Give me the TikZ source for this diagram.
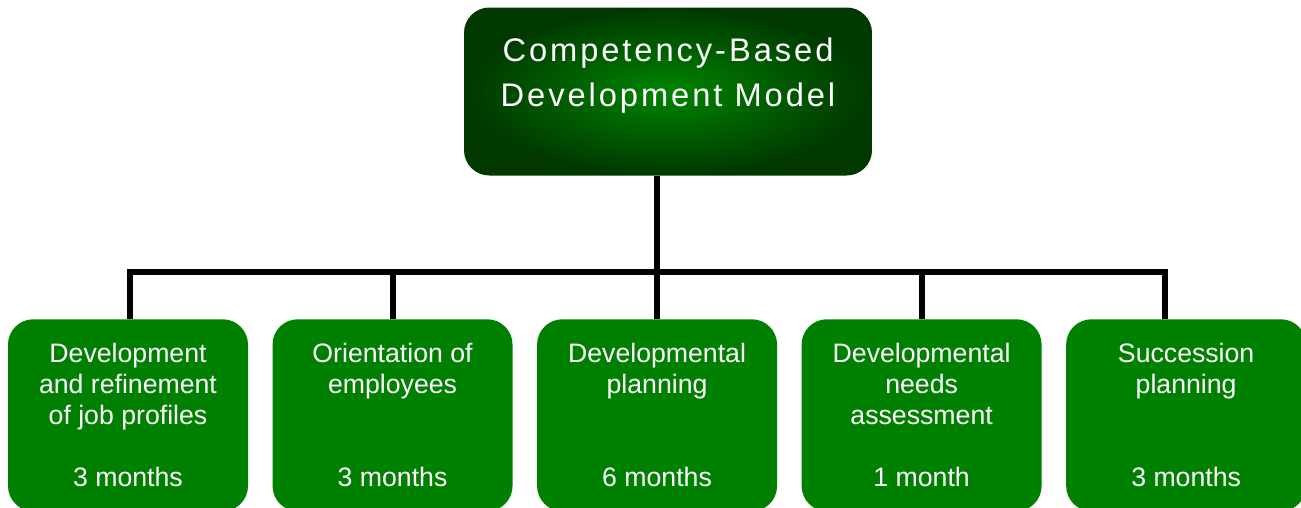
\documentclass[tikz,border=0pt]{standalone}
\usepackage{fontspec}
\setmainfont{Liberation Sans}
\newfontfamily\titlefont[LetterSpace=9]{Liberation Sans}
\usetikzlibrary{positioning, calc}
\tikzstyle{model} = [rounded corners=19pt, minimum width=306pt, minimum height=126pt, inner color=green!52!black, outer color=green!22!black, text=white, align=center, font=\titlefont\fontsize{24.5}{33.75}\selectfont]
\tikzstyle{stage} = [rounded corners=19pt, minimum width=180pt, minimum height=144pt, inner sep=0pt, fill=green!50!black, text=white, align=center, font=\fontsize{20}{23.25}\selectfont]
\tikzstyle{bus} = [line width=4.5pt]

\begin{document}
\begin{tikzpicture}[x=0.75pt, y=-0.75pt]
          \useasboundingbox (0,0) rectangle (1301,507);

          \node[model] (model) at (668,91.5) {Competency-Based\\Development Model\\[-4pt]~};

          \node[stage, anchor=north] (stage-1) at (128,319) {Development\\and refinement\\of job profiles\\~\\3 months};
          \node[stage, right=18pt of stage-1] (stage-2) {Orientation of\\employees\\~\\~\\3 months};
          \node[stage, right=18pt of stage-2] (stage-3) {Developmental\\planning\\~\\~\\6 months};
          \node[stage, right=18pt of stage-3] (stage-4) {Developmental\\needs\\assessment\\~\\1 month};
          \node[stage, right=18pt of stage-4] (stage-5) {Succession\\planning\\~\\~\\3 months};

          \coordinate (hub) at ($(model.south -| stage-3.north)!0.67!(stage-3.north)$);

          \draw[bus] (model.south -| stage-3.north) -- (stage-3.north);
          \draw[bus] ([xshift=1.5pt]stage-1.north) |- ([xshift=-15.75pt]stage-5.north |- hub) -- ([xshift=-15.75pt]stage-5.north);
          \draw[bus] (stage-2.north) -- (stage-2.north |- hub);
          \draw[bus] (stage-4.north) -- (stage-4.north |- hub);
      \end{tikzpicture}
\end{document}
